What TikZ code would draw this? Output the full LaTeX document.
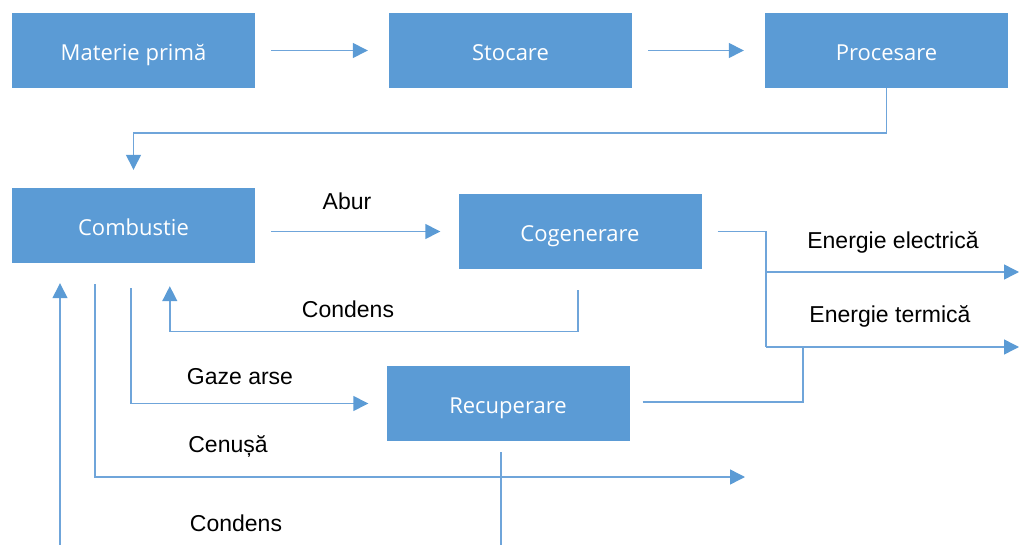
\documentclass[tikz,border=0pt]{standalone}
\usepackage{fontspec}
\setmainfont{Liberation Sans}
\newfontfamily\boxfont{Open Sans}
\usetikzlibrary{arrows.meta,calc}
\definecolor{boxblue}{HTML}{5B9BD5}
\definecolor{lineblue}{HTML}{6FA5DA}
\tikzset{
	blue box/.style={rectangle, fill=boxblue, text=white, minimum width=243pt, minimum height=75pt, inner sep=0, text height=20pt, text depth=0pt, font=\boxfont\fontsize{22}{26}\selectfont},
	flow/.style={draw=lineblue, line width=1.4pt, -{Triangle[length=15pt, width=15pt, color=boxblue]}},
	plain/.style={draw=lineblue, line width=1.4pt},
	flow label/.style={inner sep=0, font=\fontsize{23}{27}\selectfont},
}

\begin{document}
\begin{tikzpicture}[x=1pt, y=-1pt]
	\useasboundingbox (0,0) rectangle (1019,545);

	% boxes
	\node[blue box] (mat) at (133.5,50.5) {Materie primă};
	\node[blue box] (sto) at (510.5,50.5) {Stocare};
	\node[blue box] (pro) at (886.5,50.5) {Procesare};
	\node[blue box] (com) at (133.5,225.5) {Combustie};
	\node[blue box] (cog) at (580,231.5) {Cogenerare};
	\node[blue box] (rec) at (508,403.5) {Recuperare};

	% free ends
	\coordinate (split) at (766,231);
	\coordinate (elec) at (1019,272);
	\coordinate (term) at (1019,347);
	\coordinate (join) at (803,347);
	\coordinate (ash) at (745,477);
	\coordinate (ret) at (60,545);
	\coordinate (recout) at (501,545);

	% labels
	\node[flow label] (abur) at (347,201) {Abur};
	\node[flow label] (cond1) at (348,309) {Condens};
	\node[flow label] (gaze) at (240,377) {Gaze arse};
	\node[flow label] (cen) at (228,446) {Cenușă};
	\node[flow label] (cond2) at (236,523) {Condens};
	\node[flow label] (ee) at (893,242) {Energie electrică};
	\node[flow label] (et) at (890,316) {Energie termică};

	% connectors
	\draw[flow, shorten <=16pt, shorten >=21pt] (mat) -- (sto);
	\draw[flow, shorten <=16pt, shorten >=21pt] (sto) -- (pro);
	\draw[flow] (pro.south) -- ++(0,45) -| ($(com.north)+(0,-18)$);
	\draw[flow] ($(com.east |- cog.west)+(16,0)$) -- ($(cog.west)+(-18,0)$);
	\draw[plain] ($(cog.east)+(16,0)$) -| (split |- term);
	\draw[flow] (split |- elec) -- (elec);
	\draw[flow] (split |- term) -- (term);
	\draw[plain] ($(rec.east)+(13,-1.5)$) -| (join);
	\draw[flow] ($(cog.south)+(-2,21)$) -- ++(0,41) -| ($(com.south west)+(158,23)$);
	\draw[flow] ($(com.south)+(-2.5,25)$) |- ($(rec.west)+(-18,0)$);
	\draw[flow] ($(com.south)+(-38.5,21)$) |- (ash);
	\draw[flow] (ret) -- ($(com.south -| ret)+(0,20)$);
	\draw[plain] ($(rec.south)+(-7,11)$) -- (recout);

\end{tikzpicture}
\end{document}
